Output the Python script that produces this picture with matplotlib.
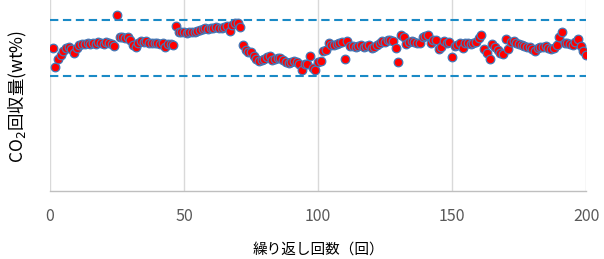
import matplotlib
matplotlib.use("Agg")
import matplotlib.pyplot as plt
import numpy as np

plt.rcParams['font.family'] = ['Noto Sans CJK JP', 'DejaVu Sans']

# Repetition number (1..200)
cycles = list(range(1, 201))

# CO2 recovery (wt%)
co2 = [
    14.3, 12.4, 13.2, 13.6, 14.0, 14.3, 14.4, 14.2, 13.8, 14.3,
    14.6, 14.7, 14.7, 14.8, 14.7, 14.8, 14.7, 14.9, 14.8, 14.7,
    14.9, 14.8, 14.7, 14.5, 17.6, 15.4, 15.4, 15.3, 15.4, 15.1,
    14.6, 14.4, 14.8, 15.0, 14.9, 15.0, 14.8, 14.8, 14.8, 14.8,
    14.7, 14.8, 14.4, 14.7, 14.7, 14.6, 16.5, 15.9, 15.9, 15.9,
    15.8, 15.9, 15.9, 15.9, 16.0, 16.1, 16.2, 16.3, 16.2, 16.3,
    16.3, 16.4, 16.3, 16.3, 16.4, 16.5, 16.0, 16.6, 16.8, 16.8,
    16.4, 14.6, 14.1, 13.9, 13.9, 13.5, 13.2, 13.0, 13.1, 13.2,
    13.4, 13.5, 13.1, 13.2, 13.3, 13.3, 13.1, 12.9, 12.8, 12.9,
    13.0, 12.9, 12.7, 12.1, 12.7, 12.7, 13.5, 12.3, 12.1, 12.9,
    13.0, 14.0, 14.1, 14.8, 14.6, 14.6, 14.7, 14.8, 14.9, 13.2,
    15.0, 14.5, 14.5, 14.4, 14.5, 14.6, 14.4, 14.5, 14.6, 14.3,
    14.4, 14.6, 14.8, 15.0, 14.9, 15.1, 15.1, 15.0, 14.3, 12.9,
    15.6, 15.4, 14.7, 14.9, 15.0, 14.9, 14.8, 14.8, 15.4, 15.5,
    15.6, 14.8, 15.1, 15.1, 14.2, 14.4, 15.0, 14.8, 14.9, 13.4,
    14.5, 14.6, 14.8, 14.3, 14.8, 14.8, 14.7, 14.8, 14.9, 15.3,
    15.6, 14.2, 13.8, 13.2, 14.7, 14.4, 14.1, 13.8, 13.7, 15.2,
    14.2, 14.9, 15.0, 14.8, 14.7, 14.6, 14.5, 14.4, 14.4, 14.2,
    14.0, 14.3, 14.4, 14.4, 14.5, 14.3, 14.2, 14.3, 14.6, 15.4,
    15.9, 14.8, 14.8, 14.7, 14.6, 14.9, 15.2, 14.5, 14.0, 13.6,
]

upper_limit = 17.1
lower_limit = 11.5

fig = plt.figure(figsize=(6.04, 2.59), dpi=100)
ax = fig.add_axes([50/604, 68/259, 536/604, 191/259])

ax.set_xlim(0, 200)
ax.set_ylim(0, 19.1)

ax.axhline(upper_limit, color='#1A8AC6', lw=1.5, ls=(0, (4, 2.2)), zorder=2)
ax.axhline(lower_limit, color='#1A8AC6', lw=1.5, ls=(0, (4, 2.2)), zorder=2)

ax.plot(cycles, co2, ls='none', marker='o', markersize=6.2,
        markerfacecolor='#FF0000', markeredgecolor='#4279B8',
        markeredgewidth=0.9, zorder=3)

ax.set_xticks([0, 50, 100, 150, 200])
ax.set_yticks([])
ax.grid(axis='x', color='#D9D9D9', lw=1.0)
ax.set_axisbelow(True)
for s in ['top', 'right', 'left']:
    ax.spines[s].set_visible(False)
ax.spines['bottom'].set_color('#BFBFBF')
ax.spines['bottom'].set_linewidth(1.0)
ax.tick_params(axis='x', length=0, pad=12, labelsize=11.5, labelcolor='#595959')

ax.set_xlabel('繰り返し回数（回）', fontsize=10.5, color='#000000', labelpad=13)
fig.text(18/604, 1 - 96/259, 'CO$_2$回収量(wt%)', rotation=90, ha='center', va='center',
         fontsize=12.5, color='#000000')

fig.savefig('out.png', dpi=100)
